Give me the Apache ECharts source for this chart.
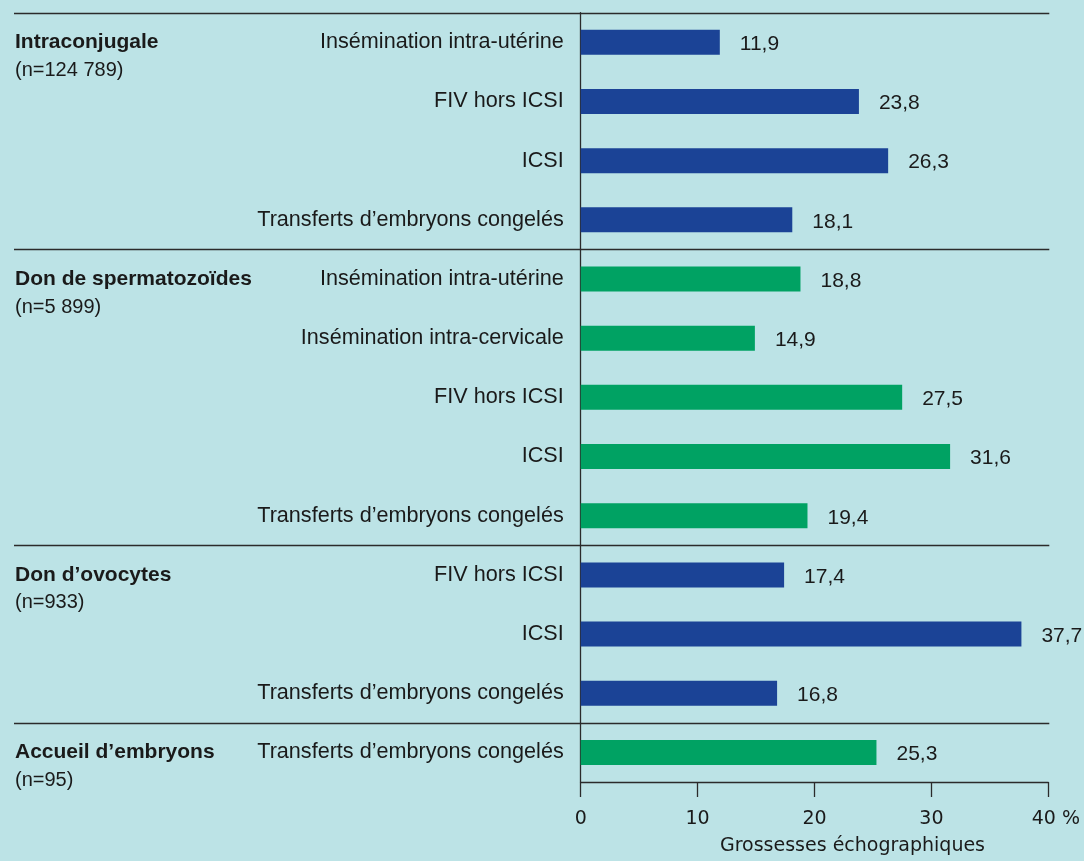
<!DOCTYPE html>
<html>
<head>
<meta charset="utf-8">
<script src="https://cdn.jsdelivr.net/npm/echarts@6/dist/echarts.min.js"></script>
<style>
  html, body { margin: 0; padding: 0; background: #bce3e6; }
  #chart { width: 1084px; height: 861px; }
</style>
</head>
<body>
<div id="chart"></div>
<script>
// groups of the chart (left column)
const groupNames = ['Intraconjugale', 'Don de spermatozoïdes', 'Don d’ovocytes', 'Accueil d’embryons'];
const groupCounts = ['(n=124 789)', '(n=5 899)', '(n=933)', '(n=95)'];
const groupSizes = [4, 5, 3, 1];
const groupColors = ['#1b4396', '#00a263', '#1b4396', '#00a263'];

// techniques (one bar each)
const techniques = [
  'Insémination intra-utérine', 'FIV hors ICSI', 'ICSI', 'Transferts d’embryons congelés',
  'Insémination intra-utérine', 'Insémination intra-cervicale', 'FIV hors ICSI', 'ICSI', 'Transferts d’embryons congelés',
  'FIV hors ICSI', 'ICSI', 'Transferts d’embryons congelés',
  'Transferts d’embryons congelés'
];
// % grossesses échographiques
const rates = [11.9, 23.8, 26.3, 18.1, 18.8, 14.9, 27.5, 31.6, 19.4, 17.4, 37.7, 16.8, 25.3];

const xTicks = [0, 10, 20, 30, 40];
const axisTitle = 'Grossesses échographiques';

const textColor = '#1a1a1a';
const lineColor = '#2b2b2b';

// which group each bar belongs to
const groupOf = [];
const groupStart = [];
groupSizes.forEach((n, g) => {
  groupStart.push(groupOf.length);
  for (let i = 0; i < n; i++) groupOf.push(g);
});

const barData = rates.map((v, i) => ({
  value: v,
  itemStyle: { color: groupColors[groupOf[i]] }
}));

const chart = echarts.init(document.getElementById('chart'));

chart.setOption({
  backgroundColor: '#bce3e6',
  animation: false,
  grid: { left: 580.7, right: 35.7, top: 12.7, bottom: 77 },
  xAxis: {
    type: 'value',
    min: xTicks[0],
    max: xTicks[xTicks.length - 1],
    interval: 10,
    axisLine: { show: true, lineStyle: { color: lineColor, width: 1.3 } },
    axisTick: { show: true, length: 15, lineStyle: { color: lineColor, width: 1.3 } },
    splitLine: { show: false },
    axisLabel: {
      margin: 28,
      fontFamily: 'DejaVu Sans',
      fontSize: 19,
      color: textColor,
      formatter: (v) => v === 40 ? '{p|40 %}' : String(v),
      rich: { p: { fontFamily: 'DejaVu Sans', fontSize: 19, color: textColor, padding: [0, 0, 0, 15] } }
    },
    name: axisTitle,
    nameLocation: 'middle',
    nameGap: 55,
    nameTextStyle: {
      fontFamily: 'DejaVu Sans',
      fontSize: 19,
      color: textColor,
      padding: [0, 0, 0, 76]
    }
  },
  yAxis: {
    type: 'category',
    inverse: true,
    data: techniques,
    axisLine: { show: true, lineStyle: { color: lineColor, width: 1.3 } },
    axisTick: { show: false },
    splitLine: { show: false },
    axisLabel: {
      margin: 17,
      fontFamily: 'Liberation Sans',
      fontSize: 21.6,
      color: textColor
    }
  },
  series: [{
    type: 'bar',
    data: barData,
    barWidth: 25,
    label: {
      show: true,
      position: 'right',
      distance: 20,
      offset: [0, 2],
      fontFamily: 'Liberation Sans',
      fontSize: 21,
      color: textColor,
      formatter: (p) => p.value.toFixed(1).replace('.', ',')
    }
  }]
});

// separators between groups and group titles on the left
const py = (i) => chart.convertToPixel({ yAxisIndex: 0 }, i);
const band = py(1) - py(0);
const xRight = chart.convertToPixel({ xAxisIndex: 0 }, xTicks[xTicks.length - 1]);
const elements = [];
groupStart.forEach((start, g) => {
  const yLine = Math.round(py(start) - band / 2) + 0.5;
  elements.push({
    type: 'line',
    shape: { x1: 14, y1: yLine, x2: xRight + 1, y2: yLine },
    style: { stroke: lineColor, lineWidth: 1.3 },
    z: 10
  });
  const yc = py(start);
  elements.push({
    type: 'text',
    x: 15, y: yc,
    style: {
      text: groupNames[g],
      font: 'bold 21px "Liberation Sans"',
      fill: textColor,
      align: 'left',
      verticalAlign: 'middle'
    }
  });
  elements.push({
    type: 'text',
    x: 15, y: yc + 28,
    style: {
      text: groupCounts[g],
      font: '20px "Liberation Sans"',
      fill: textColor,
      align: 'left',
      verticalAlign: 'middle'
    }
  });
});
chart.setOption({ graphic: elements });
</script>
</body>
</html>
